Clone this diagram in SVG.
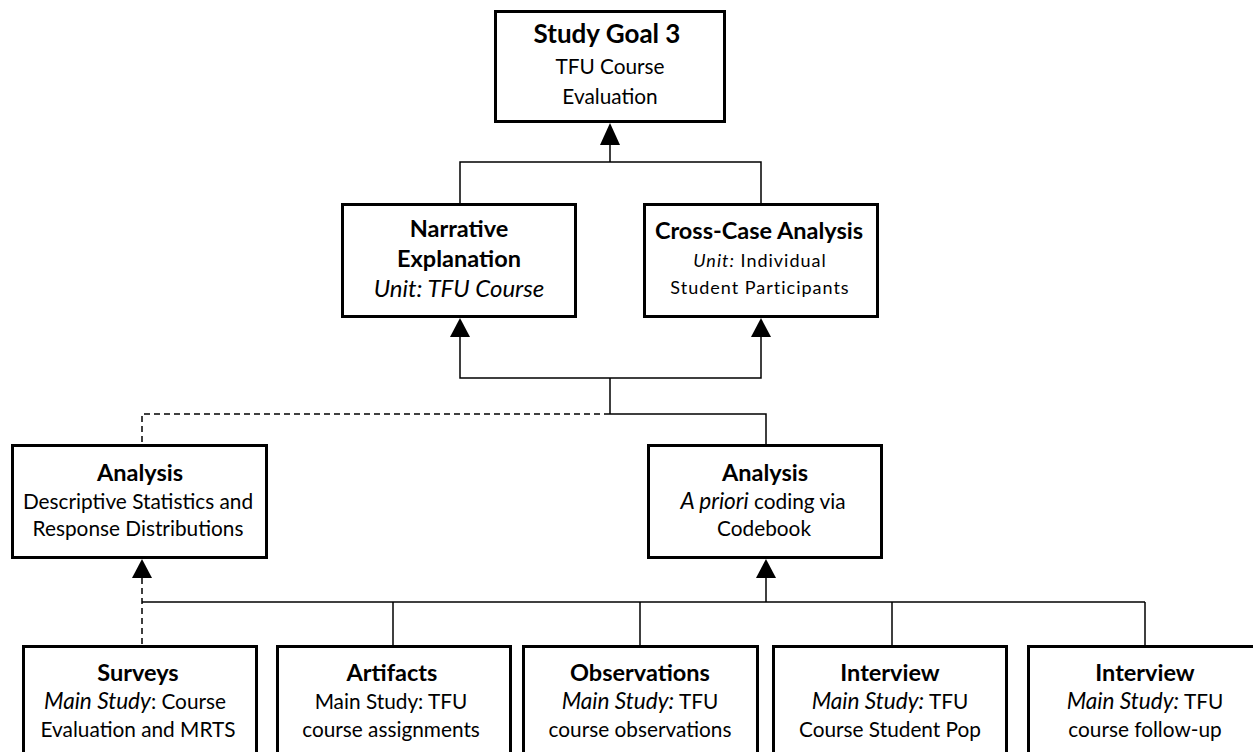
<svg xmlns="http://www.w3.org/2000/svg" width="1253" height="752" viewBox="0 0 1253 752">
  <style>
    .box { fill: #ffffff; stroke: #000000; stroke-width: 3; }
    .t { font-family: Lato, "Liberation Sans", sans-serif; font-size: 20.8px; fill: #000000; text-anchor: middle; }
    .b { font-weight: bold; font-size: 23.5px; }
    .big { font-size: 26px; }
    .i { font-style: italic; font-size: 22.6px; }
    .iu { font-style: italic; font-size: 24px; }
    .small { font-size: 18px; letter-spacing: 1px; }
    .small .i { font-size: 18px; }
    .line { fill: none; stroke: #000000; stroke-width: 1.5; }
    .dash { stroke-dasharray: 6 4; }
    .head { fill: #000000; stroke: none; }
  </style>
  <rect width="1253" height="752" fill="#ffffff"/>

  <!-- connectors -->
  <g id="connectors">
    <!-- Narrative / Cross-Case up to Study Goal 3 -->
    <polyline class="line" points="460,204 460,162 761,162 761,204"/>
    <line class="line" x1="610" y1="162" x2="610" y2="144"/>
    <polygon class="head" points="610,123 600,145 620,145"/>

    <!-- analyses up to Narrative / Cross-Case -->
    <polyline class="line" points="460,337 460,378 761,378 761,337"/>
    <polygon class="head" points="460,318 450,337 470,337"/>
    <polygon class="head" points="761,318 751,337 771,337"/>
    <line class="line" x1="610" y1="378" x2="610" y2="414"/>
    <polyline class="line" points="610,414 766,414 766,445"/>
    <polyline class="line dash" points="610,414 142,414 142,445"/>

    <!-- data sources up to the analyses -->
    <polygon class="head" points="142,559 132,578 152,578"/>
    <line class="line dash" x1="142" y1="578" x2="142" y2="646"/>
    <polygon class="head" points="766,559 756,578 776,578"/>
    <line class="line" x1="766" y1="578" x2="766" y2="602"/>
    <line class="line" x1="142" y1="602" x2="1145" y2="602"/>
    <line class="line" x1="393" y1="602" x2="393" y2="646"/>
    <line class="line" x1="640" y1="602" x2="640" y2="646"/>
    <line class="line" x1="892" y1="602" x2="892" y2="646"/>
    <line class="line" x1="1145" y1="602" x2="1145" y2="646"/>
  </g>

  <g id="goal">
    <rect class="box" x="495.5" y="11.5" width="229" height="110"/>
    <text class="t b big" x="607" y="43">Study Goal 3</text>
    <text class="t" x="610" y="74" font-size="22">TFU Course</text>
    <text class="t" x="610" y="104" font-size="22">Evaluation</text>
  </g>

  <g id="narrative">
    <rect class="box" x="342.5" y="204.5" width="233" height="112"/>
    <text class="t b" x="459" y="237">Narrative</text>
    <text class="t b" x="459" y="267">Explanation</text>
    <text class="t iu" x="459" y="297">Unit: TFU Course</text>
  </g>

  <g id="crosscase">
    <rect class="box" x="644.5" y="204.5" width="233" height="112"/>
    <text class="t b" x="759" y="239">Cross-Case Analysis</text>
    <text class="t small" x="760" y="267"><tspan class="i">Unit:</tspan> Individual</text>
    <text class="t small" x="760" y="294">Student Participants</text>
  </g>

  <g id="analysis-descriptive">
    <rect class="box" x="12.5" y="445.5" width="254" height="112"/>
    <text class="t b" x="140" y="481">Analysis</text>
    <text class="t" x="138" y="509">Descriptive Statistics and</text>
    <text class="t" x="138" y="536">Response Distributions</text>
  </g>

  <g id="analysis-coding">
    <rect class="box" x="648.5" y="445.5" width="233" height="112"/>
    <text class="t b" x="765" y="481">Analysis</text>
    <text class="t" x="763" y="509"><tspan class="i">A priori</tspan> coding via</text>
    <text class="t" x="764" y="536">Codebook</text>
  </g>

  <g id="surveys">
    <rect class="box" x="23.5" y="646.5" width="233" height="120"/>
    <text class="t b" x="138" y="681">Surveys</text>
    <text class="t" x="135" y="709"><tspan class="i">Main Study</tspan>: Course</text>
    <text class="t" x="138" y="737">Evaluation and MRTS</text>
  </g>

  <g id="artifacts">
    <rect class="box" x="277.5" y="646.5" width="233" height="120"/>
    <text class="t b" x="392" y="681">Artifacts</text>
    <text class="t" x="391" y="709">Main Study: TFU</text>
    <text class="t" x="391" y="737">course assignments</text>
  </g>

  <g id="observations">
    <rect class="box" x="523.5" y="646.5" width="234" height="120"/>
    <text class="t b" x="640" y="681">Observations</text>
    <text class="t" x="640" y="709"><tspan class="i">Main Study:</tspan> TFU</text>
    <text class="t" x="640" y="737">course observations</text>
  </g>

  <g id="interview-pop">
    <rect class="box" x="773.5" y="646.5" width="233" height="120"/>
    <text class="t b" x="890" y="681">Interview</text>
    <text class="t" x="890" y="709"><tspan class="i">Main Study:</tspan> TFU</text>
    <text class="t" x="890" y="737">Course Student Pop</text>
  </g>

  <g id="interview-followup">
    <rect class="box" x="1028.5" y="646.5" width="233" height="120"/>
    <text class="t b" x="1145" y="681">Interview</text>
    <text class="t" x="1145" y="709"><tspan class="i">Main Study:</tspan> TFU</text>
    <text class="t" x="1145" y="737">course follow-up</text>
  </g>
</svg>
